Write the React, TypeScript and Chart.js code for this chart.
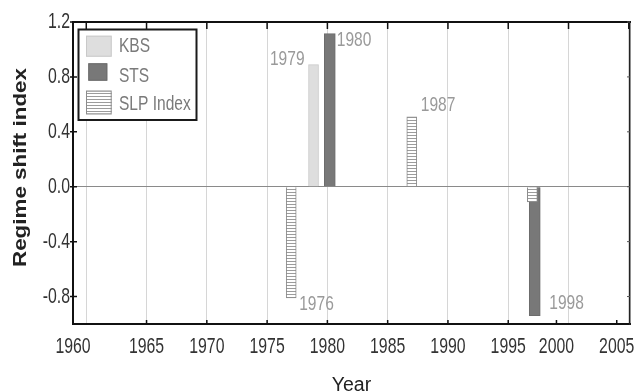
import React, { useEffect, useRef } from 'react';
import { Chart, registerables } from 'chart.js';

Chart.register(...registerables);

// ---------- data ----------
const SERIES_NAMES = ['KBS', 'STS', 'SLP Index'];
const KBS_YEARS = [1978.85];
const KBS_VALUES = [0.89];
const STS_YEARS = [1980.2, 1997.2];
const STS_VALUES = [1.115, -0.94];
const SLP_YEARS = [1977, 1987, 1997.0];
const SLP_VALUES = [-0.81, 0.51, -0.11];

const X_MIN = 1958.9;
const X_MAX = 2005.1;
const GRID_YEARS = [1960, 1965, 1970, 1975, 1980, 1985, 1990, 1995, 2000, 2005];
const X_TICK_VALUES = [1958.9, 1965, 1970, 1975, 1980, 1985, 1990, 1995, 1999, 2004];
const X_TICK_LABELS = ['1960', '1965', '1970', '1975', '1980', '1985', '1990', '1995', '2000', '2005'];
const Y_MIN = -1.0;
const Y_MAX = 1.2;
const Y_TICKS = [-0.8, -0.4, 0, 0.4, 0.8, 1.2];
const Y_TICK_LABELS = ['-0.8', '-0.4', '0.0', '0.4', '0.8', '1.2'];
const X_TITLE = 'Year';
const Y_TITLE = 'Regime shift index';

// bar annotations: text and which bar (dataset index, point index) they belong to
const ANNOT_TEXT = ['1979', '1980', '1987', '1976', '1998'];
const ANNOT_DATASET = [0, 1, 2, 2, 1];
const ANNOT_POINT = [0, 0, 1, 0, 1];

// ---------- styles ----------
const ANNOT_STYLE = [
  { side: 'left', dx: -4, dy: -5 },
  { side: 'right', dx: 1.5, dy: 7 },
  { side: 'right', dx: 4, dy: -12 },
  { side: 'right', dx: 3, dy: 6 },
  { side: 'right', dx: 9, dy: -13 },
];
const LEGEND_BOX = { x: 78.5, y: 29.5, w: 118, h: 90.5 };
const LEGEND_SWATCH = [
  [86, 35.7, 25.7, 21],
  [88.3, 63.3, 19, 17.4],
  [86, 90.7, 25.7, 23.6],
];
const LEGEND_TEXT_X = 119;
const LEGEND_TEXT_Y = [46.7, 76.7, 104];
const NARROW = 0.74;
const FONT = '"Liberation Sans", Arial, sans-serif';

function makeHatch(): CanvasPattern | string {
  const c = document.createElement('canvas');
  c.width = 8;
  c.height = 3;
  const g = c.getContext('2d');
  if (!g) return '#ffffff';
  g.fillStyle = '#ffffff';
  g.fillRect(0, 0, 8, 3);
  g.fillStyle = '#9c9c9c';
  g.fillRect(0, 0, 8, 1);
  const p = g.createPattern(c, 'repeat');
  return p || '#ffffff';
}

function narrowText(
  ctx: CanvasRenderingContext2D,
  text: string,
  x: number,
  y: number,
  align: CanvasTextAlign,
  size: number,
  color: string,
  sx = NARROW
) {
  ctx.save();
  ctx.translate(x, y);
  ctx.scale(sx, 1);
  ctx.font = `${size}px ${FONT}`;
  ctx.fillStyle = color;
  ctx.textAlign = align;
  ctx.textBaseline = 'middle';
  ctx.fillText(text, 0, 0);
  ctx.restore();
}

const decorPlugin = {
  id: 'decor',
  afterDraw(chart: any) {
    const ctx: CanvasRenderingContext2D = chart.ctx;
    const area = chart.chartArea;
    const xs = chart.scales.x;
    const ys = chart.scales.y;

    // tick marks
    ctx.save();
    ctx.strokeStyle = '#111';
    ctx.lineWidth = 1.5;
    ctx.beginPath();
    GRID_YEARS.forEach((v) => {
      const px = xs.getPixelForValue(v);
      ctx.moveTo(px, area.top);
      ctx.lineTo(px, area.top + 7);
    });
    X_TICK_VALUES.forEach((v) => {
      const px = xs.getPixelForValue(v);
      ctx.moveTo(px, area.bottom);
      ctx.lineTo(px, area.bottom - 4);
    });
    Y_TICKS.forEach((v) => {
      const py = ys.getPixelForValue(v);
      ctx.moveTo(area.left - 3, py);
      ctx.lineTo(area.left + 4, py);
    });
    ctx.stroke();
    ctx.strokeStyle = '#555';
    ctx.lineWidth = 1;
    ctx.beginPath();
    Y_TICKS.forEach((v) => {
      const py = ys.getPixelForValue(v);
      ctx.moveTo(area.right, py);
      ctx.lineTo(area.right - 3, py);
    });
    ctx.stroke();
    ctx.restore();

    // tick labels
    Y_TICKS.forEach((v, i) => {
      narrowText(ctx, Y_TICK_LABELS[i], area.left - 3, ys.getPixelForValue(v), 'right', 22, '#333', 0.72);
    });
    X_TICK_VALUES.forEach((v, i) => {
      narrowText(ctx, X_TICK_LABELS[i], xs.getPixelForValue(v), area.bottom + 23, 'center', 22, '#333', 0.72);
    });

    // axis titles
    ctx.save();
    ctx.font = `19.5px ${FONT}`;
    ctx.fillStyle = '#222';
    ctx.textAlign = 'center';
    ctx.textBaseline = 'alphabetic';
    ctx.fillText(X_TITLE, (area.left + area.right) / 2, area.bottom + 66.5);
    ctx.restore();

    ctx.save();
    ctx.font = `bold 17.7px ${FONT}`;
    const w = ctx.measureText(Y_TITLE).width;
    const sx = 199 / w;
    ctx.translate(26, (area.top + area.bottom) / 2 - 5.5);
    ctx.rotate(-Math.PI / 2);
    ctx.scale(sx, 1);
    ctx.fillStyle = '#222';
    ctx.textAlign = 'center';
    ctx.textBaseline = 'alphabetic';
    ctx.fillText(Y_TITLE, 0, 0);
    ctx.restore();

    // bar annotations
    ANNOT_TEXT.forEach((t, i) => {
      const el = chart.getDatasetMeta(ANNOT_DATASET[i]).data[ANNOT_POINT[i]];
      if (!el) return;
      const st = ANNOT_STYLE[i];
      const half = el.width / 2;
      const x = st.side === 'left' ? el.x - half + st.dx : el.x + half + st.dx;
      narrowText(ctx, t, x, el.y + st.dy, st.side === 'left' ? 'right' : 'left', 21, '#9a9a9a');
    });

    // legend
    ctx.save();
    ctx.fillStyle = '#ffffff';
    ctx.fillRect(LEGEND_BOX.x, LEGEND_BOX.y, LEGEND_BOX.w, LEGEND_BOX.h);
    ctx.strokeStyle = '#1a1a1a';
    ctx.lineWidth = 2;
    ctx.strokeRect(LEGEND_BOX.x, LEGEND_BOX.y, LEGEND_BOX.w, LEGEND_BOX.h);
    chart.data.datasets.forEach((ds: any, i: number) => {
      const [sx0, sy0, sw, sh] = LEGEND_SWATCH[i];
      ctx.fillStyle = ds.backgroundColor;
      ctx.fillRect(sx0, sy0, sw, sh);
      ctx.strokeStyle = ds.borderColor;
      ctx.lineWidth = 1;
      ctx.strokeRect(sx0 + 0.5, sy0 + 0.5, sw - 1, sh - 1);
      narrowText(ctx, ds.label, LEGEND_TEXT_X, LEGEND_TEXT_Y[i], 'left', 21, '#7a7a7a');
    });
    ctx.restore();
  },
};

export default function App() {
  const ref = useRef<HTMLCanvasElement | null>(null);

  useEffect(() => {
    document.body.style.margin = '0';
    const canvas = ref.current;
    if (!canvas) return;
    const hatch = makeHatch();

    const chart = new Chart(canvas, {
      type: 'bar',
      data: {
        datasets: [
          {
            label: SERIES_NAMES[0],
            data: KBS_YEARS.map((x, i) => ({ x, y: KBS_VALUES[i] })),
            backgroundColor: '#dedede',
            borderColor: '#c9c9c9',
            borderWidth: 1,
            barThickness: 10,
            order: 1,
          },
          {
            label: SERIES_NAMES[1],
            data: STS_YEARS.map((x, i) => ({ x, y: STS_VALUES[i] })),
            backgroundColor: '#787878',
            borderColor: '#6c6c6c',
            borderWidth: 1,
            barThickness: 11,
            order: 1,
          },
          {
            label: SERIES_NAMES[2],
            data: SLP_YEARS.map((x, i) => ({ x, y: SLP_VALUES[i] })),
            backgroundColor: hatch as any,
            borderColor: '#8c8c8c',
            borderWidth: 1,
            barThickness: 10,
            order: 0,
          },
        ],
      },
      options: {
        animation: false,
        responsive: false,
        devicePixelRatio: 1,
        layout: { padding: { left: 73, top: 22, right: 6, bottom: 68 } },
        datasets: { bar: { grouped: false } } as any,
        plugins: {
          legend: { display: false },
          tooltip: { enabled: false },
        },
        scales: {
          x: {
            type: 'linear',
            position: 'bottom',
            min: X_MIN,
            max: X_MAX,
            offset: false,
            grid: { display: false, offset: false, drawTicks: false },
            border: { display: true, color: '#111', width: 2 },
            ticks: { display: false },
          },
          xTop: {
            type: 'linear',
            position: 'top',
            min: X_MIN,
            max: X_MAX,
            offset: false,
            afterBuildTicks: (s: any) => {
              s.ticks = GRID_YEARS.map((v) => ({ value: v }));
            },
            grid: { display: true, offset: false, drawTicks: false, color: '#d6d6d6', lineWidth: 1 },
            border: { display: true, color: '#111', width: 2 },
            ticks: { display: false },
          },
          y: {
            type: 'linear',
            position: 'left',
            min: Y_MIN,
            max: Y_MAX,
            afterBuildTicks: (s: any) => {
              s.ticks = Y_TICKS.map((v) => ({ value: v }));
            },
            grid: {
              display: true,
              drawTicks: false,
              color: (c: any) => (c.tick && c.tick.value === 0 ? '#8a8a8a' : 'rgba(0,0,0,0)'),
              lineWidth: 1,
            },
            border: { display: true, color: '#111', width: 2 },
            ticks: { display: false },
          },
          yRight: {
            type: 'linear',
            position: 'right',
            min: Y_MIN,
            max: Y_MAX,
            grid: { display: false, drawTicks: false },
            border: { display: true, color: '#222', width: 1.5 },
            ticks: { display: false },
          },
        } as any,
      },
      plugins: [decorPlugin],
    });

    return () => chart.destroy();
  }, []);

  return (
    <div style={{ width: 636, height: 392, background: '#fff' }}>
      <canvas ref={ref} width={636} height={392} style={{ display: 'block' }} />
    </div>
  );
}
